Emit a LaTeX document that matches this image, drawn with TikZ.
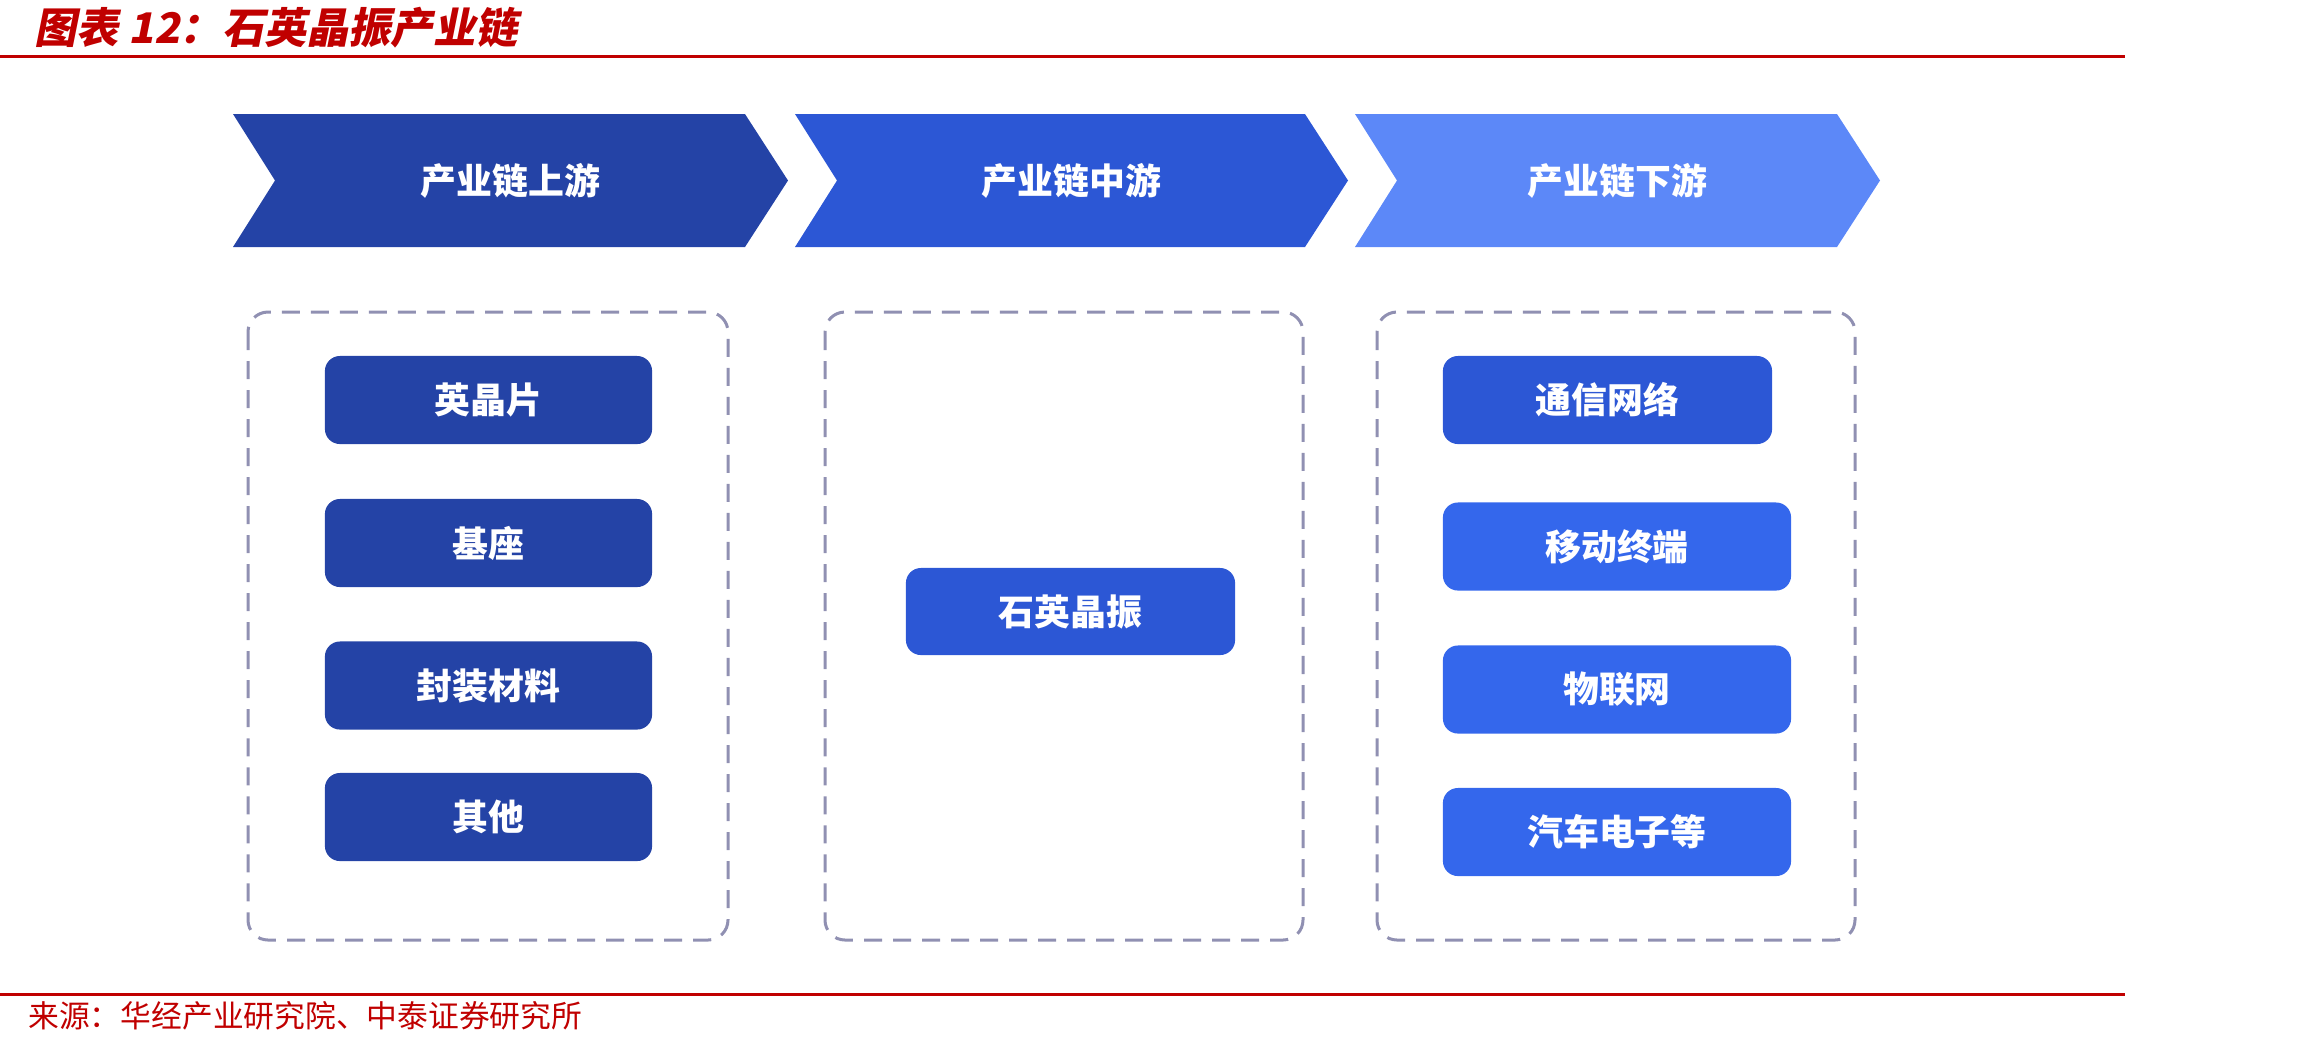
\documentclass[tikz,border=0pt]{standalone}
\usepackage{fontspec}
\newfontfamily\cjk{Noto Sans CJK SC}
\newfontfamily\cjkslant[FakeSlant=0.2]{Noto Sans CJK SC}
\usetikzlibrary{positioning}
\definecolor{qzred}{HTML}{C00000}
\definecolor{qzup}{HTML}{2443A6}
\definecolor{qzmid}{HTML}{2C57D5}
\definecolor{qzdown}{HTML}{5C88F8}
\definecolor{qzbright}{HTML}{3467EC}
\definecolor{qzgray}{HTML}{9090B2}

\begin{document}
\begin{tikzpicture}[x=0.01cm, y=-0.01cm, font=\cjk,
    head/.style={text=white, font=\cjk\bfseries\fontsize{10.2}{12}\selectfont},
    item/.style={fill=#1, rounded corners=0.15cm, minimum width=3.27cm, minimum height=0.88cm,
      inner sep=0pt, text=white, font=\cjk\bfseries\fontsize{10.2}{12}\selectfont},
    frame/.style={draw=qzgray, dash pattern=on 0.18cm off 0.11cm, line width=0.03cm, rounded corners=0.2cm}]
    \useasboundingbox (0,0) rectangle (2302,1047);
    \node[anchor=west, text=qzred, font=\cjkslant\bfseries\fontsize{12}{14}\selectfont] (title) at (22,28) {图表 12：石英晶振产业链};
    \draw[qzred, line width=0.03cm] (0,56) -- (2125,56);
    \foreach \xl/\xr/\col/\txt/\nm in {233/788/qzup/产业链上游/up, 795/1348/qzmid/产业链中游/mid, 1355/1880/qzdown/产业链下游/down} {
      \fill[\col] (\xl,114) -- (\xr-43,114) -- (\xr,180.5) -- (\xr-43,247) -- (\xl,247) -- (\xl+42,180.5) -- cycle;
      \node[head] (\nm) at ({(\xl+\xr)/2},180.5) {\txt};
    }
    \draw[frame] (248,312) rectangle (728,940);
    \draw[frame] (825,312) rectangle (1303,940);
    \draw[frame] (1377,312) rectangle (1855,940);
    \foreach \y/\txt/\nm in {400/英晶片/wafer, 543/基座/base, 685.5/封装材料/pack, 817/其他/other}
      \node[item=qzup] (\nm) at (488.5,\y) {\txt};
    \node[item=qzmid, minimum width=3.29cm, minimum height=0.87cm] (osc) at (1070.5,611.5) {石英晶振};
    \node[item=qzmid, minimum width=3.29cm] (net) at (1607.5,400) {通信网络};
    \foreach \y/\txt/\nm in {546.5/移动终端/mobile, 689.5/物联网/iot, 832/汽车电子等/auto}
      \node[item=qzbright, minimum width=3.48cm] (\nm) at (1617,\y) {\txt};
    \draw[qzred, line width=0.03cm] (0,994) -- (2125,994);
    \node[anchor=west, text=qzred, font=\cjk\fontsize{8.75}{11}\selectfont] (source) at (16,1016) {来源：华经产业研究院、中泰证券研究所};
  \end{tikzpicture}
\end{document}
